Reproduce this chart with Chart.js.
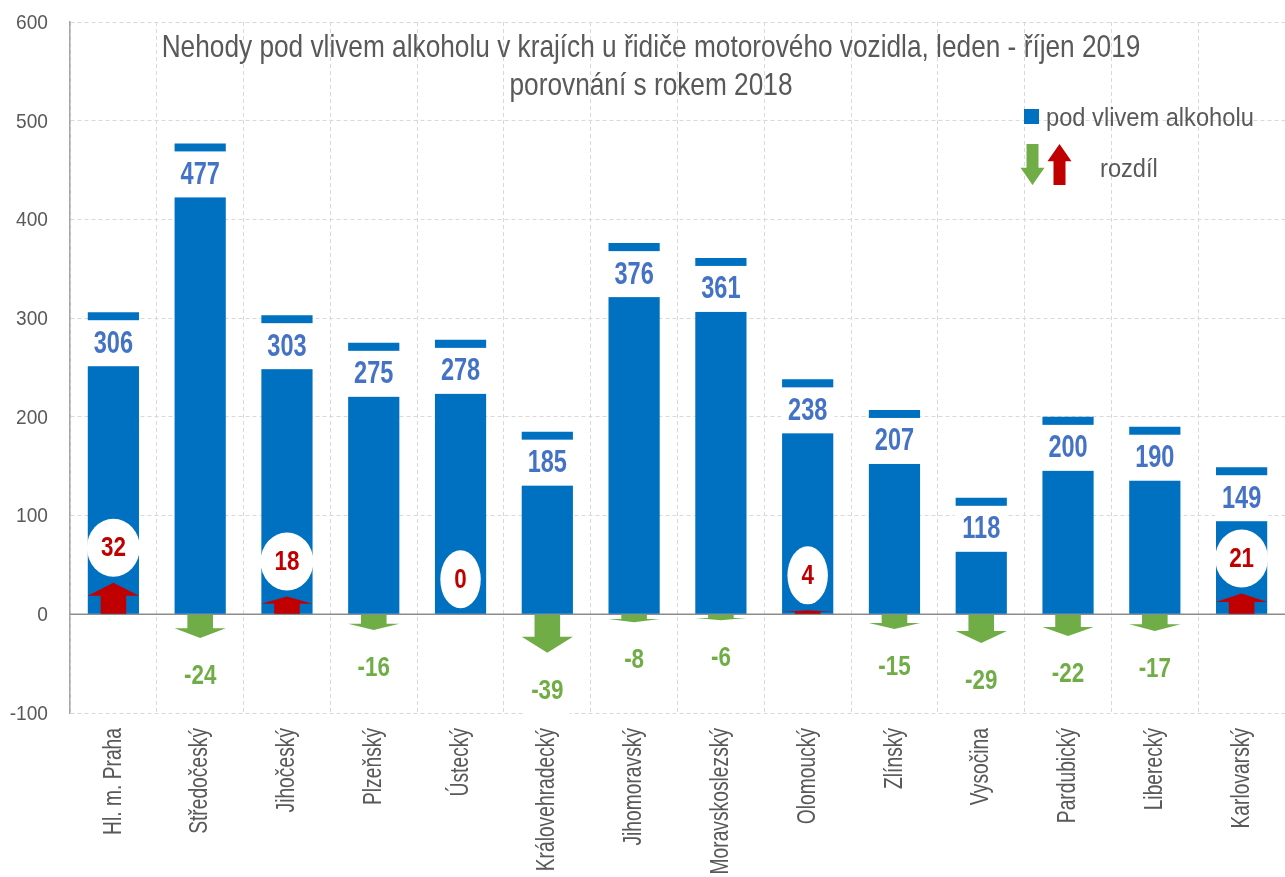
<!DOCTYPE html>
<html lang="cs">
<head>
<meta charset="utf-8">
<title>Nehody pod vlivem alkoholu</title>
<script src="https://cdn.jsdelivr.net/npm/chart.js@4.4.1/dist/chart.umd.min.js"></script>
<style>
  html, body { margin: 0; padding: 0; background: #fff; }
  #box { width: 1285px; height: 877px; position: relative; }
</style>
</head>
<body>
<div id="box"><canvas id="alkoholChart"></canvas></div>
<script>
// data
const kraje = ["Hl. m. Praha", "Středočeský", "Jihočeský", "Plzeňský", "Ústecký", "Královehradecký",
  "Jihomoravský", "Moravskoslezský", "Olomoucký", "Zlínský", "Vysočina", "Pardubický", "Liberecký", "Karlovarský"];
const nehody = [306, 477, 303, 275, 278, 185, 376, 361, 238, 207, 118, 200, 190, 149];
const rozdil = [32, -24, 18, -16, 0, -39, -8, -6, 4, -15, -29, -22, -17, 21];
const osaY = [-100, 0, 100, 200, 300, 400, 500, 600];

const titulek = ["Nehody pod vlivem alkoholu v krajích u řidiče motorového vozidla, leden - říjen 2019",
  "porovnání s rokem 2018"];

// no narrow font installed -> Liberation Sans squeezed horizontally
const PISMO = "'Liberation Sans', Arial, sans-serif";
const MODRA = "#0070C0";
const ZELENA = "#70AD47";
const CERVENA = "#C00000";
const SEDA = "#595959";

function text(ctx, txt, x, y, size, bold, sx, barva, align, rot) {
  ctx.save();
  ctx.translate(x, y);
  if (rot) ctx.rotate(rot);
  ctx.scale(sx, 1);
  ctx.font = (bold ? "bold " : "") + size + "px " + PISMO;
  ctx.fillStyle = barva;
  ctx.textAlign = align || "center";
  ctx.textBaseline = "middle";
  ctx.fillText(txt, 0, 0);
  ctx.restore();
}

function sirka(ctx, txt, size, bold, sx) {
  ctx.save();
  ctx.font = (bold ? "bold " : "") + size + "px " + PISMO;
  const w = ctx.measureText(txt).width * sx;
  ctx.restore();
  return w;
}

function sipka(ctx, x, base, tip, w, barva) {
  // arrow from base to tip, head about 42 % of length
  const len = tip - base;
  const head = base + len * 0.58;
  const bw = w / 2;
  ctx.fillStyle = barva;
  ctx.beginPath();
  ctx.moveTo(x - bw / 2, base);
  ctx.lineTo(x - bw / 2, head);
  ctx.lineTo(x - w / 2, head);
  ctx.lineTo(x, tip);
  ctx.lineTo(x + w / 2, head);
  ctx.lineTo(x + bw / 2, head);
  ctx.lineTo(x + bw / 2, base);
  ctx.closePath();
  ctx.fill();
}

const kresba = {
  id: "kresba",
  beforeDatasetsDraw(chart) {
    const ctx = chart.ctx;
    const y0 = chart.scales.y.getPixelForValue(0);
    ctx.save();
    ctx.strokeStyle = "#8C8C8C";
    ctx.lineWidth = 1.5;
    ctx.beginPath();
    ctx.moveTo(chart.chartArea.left, y0);
    ctx.lineTo(chart.chartArea.right, y0);
    ctx.stroke();
    ctx.restore();
  },
  afterDatasetsDraw(chart) {
    const ctx = chart.ctx;

    // value labels in a white box near the top of the bar
    chart.getDatasetMeta(0).data.forEach((bar, i) => {
      const w = bar.width + 2;
      ctx.fillStyle = "#fff";
      ctx.fillRect(bar.x - w / 2, bar.y + 8, w, 46);
      text(ctx, String(nehody[i]), bar.x, bar.y + 32, 31, true, 0.76, "#4472C4");
    });

    // arrows and differences
    chart.getDatasetMeta(1).data.forEach((el, i) => {
      const v = rozdil[i];
      if (v !== 0) sipka(ctx, el.x, el.base, el.y, el.width, v > 0 ? CERVENA : ZELENA);
      const txt = String(v);
      const tw = sirka(ctx, txt, 28, true, 0.8);
      if (v >= 0) {
        const cy = el.y - 35;
        ctx.fillStyle = "#fff";
        ctx.beginPath();
        ctx.ellipse(el.x, cy, tw / 2 + 14, 29, 0, 0, Math.PI * 2);
        ctx.fill();
        text(ctx, txt, el.x, cy + 1, 28, true, 0.8, CERVENA);
      } else {
        const cy = el.y + 38;
        ctx.fillStyle = "#fff";
        ctx.fillRect(el.x - tw / 2 - 6, cy - 25, tw + 12, 50);
        text(ctx, txt, el.x, cy, 28, true, 0.8, ZELENA);
      }
    });
  },
  afterDraw(chart) {
    const ctx = chart.ctx;
    const sx = chart.scales.x;
    const sy = chart.scales.y;

    // axis labels
    osaY.forEach((v) => {
      text(ctx, String(v), 48, sy.getPixelForValue(v) + 1, 21, false, 0.91, SEDA, "right");
    });
    kraje.forEach((k, i) => {
      text(ctx, k, sx.getPixelForValue(i), 728, 26, false, 0.74, SEDA, "right", -Math.PI / 2);
    });

    // title
    text(ctx, titulek[0], 651, 48, 32, false, 0.82, SEDA);
    text(ctx, titulek[1], 651, 86, 32, false, 0.82, SEDA);

    // legend
    ctx.fillStyle = MODRA;
    ctx.fillRect(1024, 109, 15, 15);
    text(ctx, "pod vlivem alkoholu", 1046, 119, 26, false, 0.91, SEDA, "left");
    sipka(ctx, 1032.5, 144, 185, 24, ZELENA);
    sipka(ctx, 1059.5, 185, 144, 24, CERVENA);
    text(ctx, "rozdíl", 1100, 170, 26, false, 0.91, SEDA, "left");
  }
};

const config = {
  type: "bar",
  data: {
    labels: kraje,
    datasets: [
      {
        label: "pod vlivem alkoholu",
        data: nehody,
        backgroundColor: MODRA,
        grouped: false,
        categoryPercentage: 1,
        barPercentage: 0.59,
        order: 2,
      },
      {
        label: "rozdíl",
        data: rozdil,
        backgroundColor: "rgba(0,0,0,0)",
        grouped: false,
        categoryPercentage: 1,
        barPercentage: 0.59,
        order: 1,
      },
    ],
  },
  options: {
    responsive: true,
    maintainAspectRatio: false,
    animation: false,
    layout: { padding: { top: 22, right: 0, left: 0, bottom: 0 } },
    plugins: {
      legend: { display: false },
      title: { display: false },
      tooltip: { enabled: false },
    },
    scales: {
      x: {
        grid: { color: "#D9D9D9", drawTicks: false, offset: true },
        border: { display: false, dash: [4, 3] },
        ticks: { display: false, autoSkip: false },
        afterFit(scale) { scale.height = 164; },
      },
      y: {
        min: -100,
        max: 600,
        afterBuildTicks(scale) { scale.ticks = osaY.map((v) => ({ value: v })); },
        grid: { color: "#D9D9D9", drawTicks: false },
        border: { display: true, color: "#A6A6A6", width: 1.5, dash: [4, 3] },
        ticks: { display: false },
        afterFit(scale) { scale.width = 70; },
      },
    },
  },
  plugins: [kresba],
};

const alkoholChart = new Chart(document.getElementById("alkoholChart"), config);
</script>
</body>
</html>
